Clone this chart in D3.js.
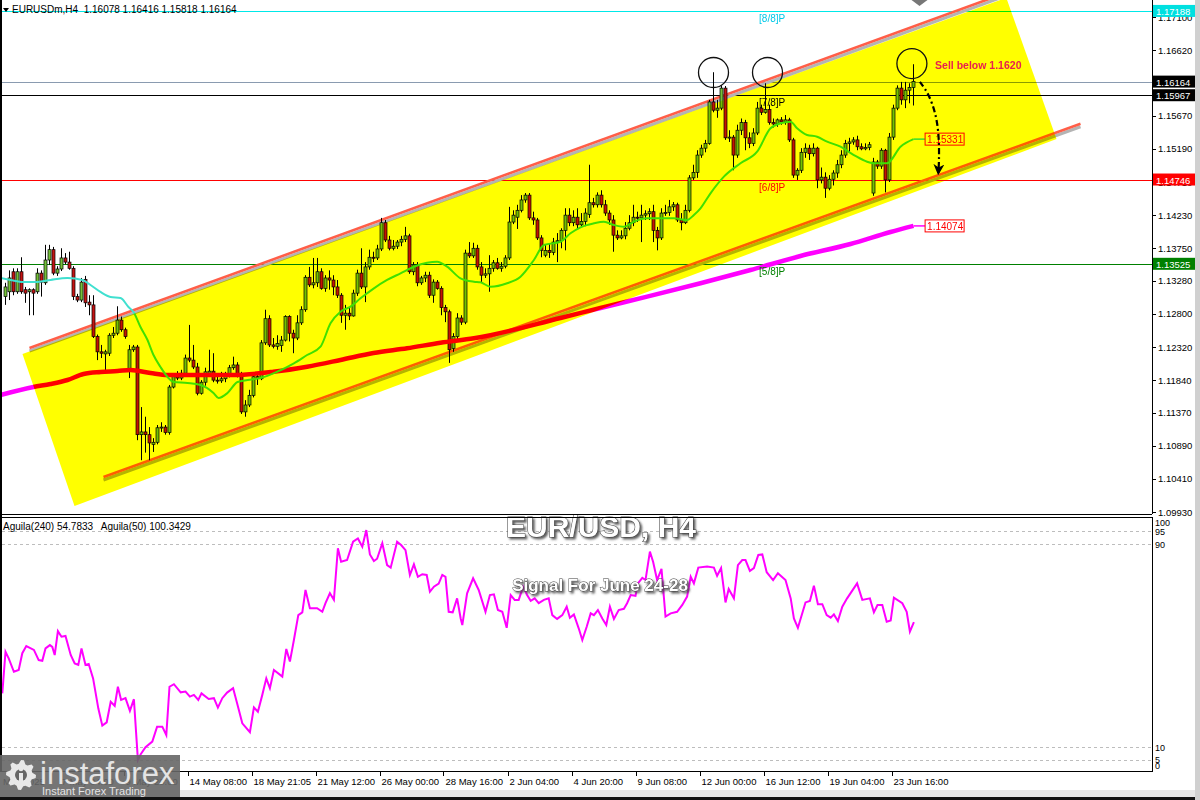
<!DOCTYPE html>
<html><head><meta charset="utf-8">
<script src="https://cdn.jsdelivr.net/npm/d3@7"></script>
<style>
html,body{margin:0;padding:0;background:#fff;}
svg{display:block;font-family:"Liberation Sans",Arial,sans-serif;}
</style></head><body>
<svg id="chart" width="1200" height="800"></svg>
<script>
// ---------------- DATA ----------------
const symbolHeader = "EURUSDm,H4  1.16078 1.16416 1.15818 1.16164";
const oscHeader = "Aguila(240) 54.7833   Aguila(50) 100.3429";

const opens = [1.1305,1.1312,1.1341,1.1312,1.1341,1.1315,1.1312,1.1315,1.1312,1.1339,
1.1325,1.1358,1.1373,1.1339,1.1345,1.1361,1.1355,1.1346,1.1305,1.1300,
1.1330,1.1297,1.1293,1.1247,1.1225,1.1222,1.1223,1.1249,1.1252,1.1271,
1.1257,1.1199,1.1228,1.1232,1.1105,1.1109,1.1105,1.1091,1.1094,1.1115,
1.1116,1.1108,1.1174,1.1189,1.1187,1.1194,1.1216,1.1213,1.1203,1.1165,
1.1181,1.1194,1.1197,1.1184,1.1183,1.1186,1.1191,1.1202,1.1206,1.1191,
1.1138,1.1148,1.1162,1.1189,1.1186,1.1238,1.1273,1.1235,1.1233,1.1234,
1.1242,1.1276,1.1252,1.1245,1.1267,1.1286,1.1333,1.1322,1.1325,1.1341,
1.1317,1.1332,1.1329,1.1319,1.1307,1.1278,1.1281,1.1277,1.1310,1.1339,
1.1319,1.1348,1.1362,1.1361,1.1374,1.1412,1.1387,1.1375,1.1378,1.1384,
1.1388,1.1393,1.1341,1.1351,1.1325,1.1332,1.1336,1.1307,1.1326,1.1317,
1.1289,1.1283,1.1230,1.1247,1.1274,1.1268,1.1368,1.1364,1.1375,1.1348,
1.1336,1.1338,1.1346,1.1354,1.1346,1.1349,1.1361,1.1413,1.1420,1.1430,
1.1445,1.1452,1.1419,1.1416,1.1390,1.1365,1.1372,1.1369,1.1384,1.1386,
1.1401,1.1423,1.1412,1.1420,1.1409,1.1414,1.1424,1.1441,1.1438,1.1452,
1.1438,1.1426,1.1416,1.1394,1.1390,1.1393,1.1404,1.1412,1.1420,1.1419,
1.1423,1.1425,1.1428,1.1401,1.1390,1.1426,1.1427,1.1435,1.1438,1.1416,
1.1412,1.1430,1.1477,1.1485,1.1510,1.1520,1.1527,1.1587,1.1575,1.1578,
1.1607,1.1535,1.1536,1.1510,1.1546,1.1557,1.1535,1.1527,1.1542,1.1578,
1.1572,1.1576,1.1557,1.1555,1.1561,1.1558,1.1561,1.1532,1.1481,1.1488,
1.1514,1.1520,1.1512,1.1520,1.1474,1.1478,1.1462,1.1475,1.1484,1.1496,
1.1510,1.1527,1.1529,1.1532,1.1522,1.1519,1.1521,1.1455,1.1500,1.1494,
1.1517,1.1474,1.1536,1.1578,1.1607,1.1590,1.1604,1.16078];

const highs = [1.1325,1.1343,1.1346,1.1346,1.1362,1.1319,1.1317,1.1317,1.1346,1.1343,
1.1380,1.1380,1.1377,1.1349,1.1375,1.1368,1.1370,1.1349,1.1309,1.1332,
1.1335,1.1307,1.1307,1.1250,1.1235,1.1228,1.1252,1.1261,1.1291,1.1276,
1.1260,1.1235,1.1235,1.1235,1.1145,1.1131,1.1116,1.1100,1.1119,1.1123,
1.1119,1.1177,1.1194,1.1197,1.1199,1.1221,1.1264,1.1235,1.1209,1.1184,
1.1202,1.1228,1.1223,1.1191,1.1196,1.1196,1.1206,1.1218,1.1210,1.1196,
1.1155,1.1170,1.1191,1.1194,1.1242,1.1286,1.1278,1.1245,1.1249,1.1248,
1.1278,1.1278,1.1257,1.1278,1.1291,1.1336,1.1348,1.1361,1.1361,1.1346,
1.1336,1.1343,1.1336,1.1329,1.1310,1.1293,1.1290,1.1315,1.1344,1.1375,
1.1355,1.1373,1.1370,1.1380,1.1419,1.1416,1.1393,1.1387,1.1387,1.1393,
1.1406,1.1396,1.1355,1.1355,1.1335,1.1341,1.1341,1.1330,1.1329,1.1320,
1.1293,1.1286,1.1252,1.1281,1.1278,1.1373,1.1384,1.1383,1.1380,1.1355,
1.1346,1.1365,1.1358,1.1361,1.1355,1.1365,1.1435,1.1430,1.1438,1.1452,
1.1455,1.1455,1.1428,1.1419,1.1394,1.1380,1.1381,1.1390,1.1397,1.1404,
1.1433,1.1433,1.1430,1.1433,1.1426,1.1433,1.1496,1.1448,1.1456,1.1459,
1.1445,1.1430,1.1423,1.1401,1.1401,1.1413,1.1423,1.1438,1.1428,1.1438,
1.1430,1.1433,1.1438,1.1406,1.1433,1.1438,1.1445,1.1442,1.1441,1.1426,
1.1438,1.1481,1.1496,1.1517,1.1525,1.1532,1.1590,1.1630,1.1590,1.1611,
1.1610,1.1546,1.1539,1.1554,1.1563,1.1561,1.1543,1.1549,1.1587,1.1583,
1.1614,1.1583,1.1563,1.1563,1.1565,1.1568,1.1564,1.1535,1.1491,1.1520,
1.1527,1.1525,1.1527,1.1522,1.1492,1.1485,1.1481,1.1488,1.1503,1.1517,
1.1532,1.1535,1.1536,1.1538,1.1527,1.1527,1.1529,1.1506,1.1503,1.1520,
1.1519,1.1542,1.1583,1.1611,1.1616,1.1616,1.1614,1.16416];

const lows = [1.1293,1.1300,1.1307,1.1309,1.1309,1.1296,1.1278,1.1278,1.1309,1.1305,
1.1322,1.1351,1.1336,1.1335,1.1342,1.1352,1.1344,1.1300,1.1297,1.1297,
1.1290,1.1278,1.1245,1.1213,1.1216,1.1196,1.1219,1.1245,1.1249,1.1254,
1.1244,1.1187,1.1225,1.1097,1.1068,1.1079,1.1068,1.1080,1.1091,1.1109,
1.1105,1.1105,1.1172,1.1184,1.1184,1.1191,1.1210,1.1200,1.1162,1.1163,
1.1176,1.1190,1.1181,1.1179,1.1180,1.1181,1.1188,1.1199,1.1188,1.1135,
1.1131,1.1145,1.1159,1.1177,1.1184,1.1235,1.1232,1.1230,1.1228,1.1225,
1.1240,1.1240,1.1223,1.1242,1.1264,1.1283,1.1319,1.1317,1.1319,1.1315,
1.1312,1.1315,1.1307,1.1303,1.1267,1.1257,1.1271,1.1276,1.1306,1.1316,
1.1297,1.1344,1.1355,1.1358,1.1371,1.1384,1.1372,1.1372,1.1374,1.1378,
1.1384,1.1338,1.1336,1.1320,1.1322,1.1326,1.1303,1.1296,1.1315,1.1278,
1.1268,1.1209,1.1225,1.1242,1.1264,1.1265,1.1361,1.1361,1.1344,1.1326,
1.1332,1.1312,1.1341,1.1344,1.1341,1.1346,1.1358,1.1410,1.1403,1.1427,
1.1441,1.1416,1.1409,1.1387,1.1362,1.1362,1.1361,1.1365,1.1355,1.1375,
1.1372,1.1407,1.1407,1.1403,1.1407,1.1407,1.1419,1.1434,1.1434,1.1434,
1.1422,1.1409,1.1370,1.1387,1.1388,1.1388,1.1401,1.1407,1.1413,1.1384,
1.1416,1.1416,1.1384,1.1372,1.1387,1.1422,1.1422,1.1429,1.1413,1.1401,
1.1410,1.1427,1.1474,1.1477,1.1506,1.1514,1.1525,1.1572,1.1564,1.1575,
1.1532,1.1529,1.1488,1.1506,1.1539,1.1517,1.1520,1.1523,1.1539,1.1568,
1.1570,1.1554,1.1550,1.1551,1.1554,1.1554,1.1529,1.1477,1.1474,1.1484,
1.1506,1.1503,1.1508,1.1462,1.1469,1.1448,1.1459,1.1466,1.1477,1.1491,
1.1506,1.1514,1.1525,1.1517,1.1517,1.1517,1.1517,1.1451,1.1490,1.1490,
1.1456,1.1471,1.1532,1.1575,1.1583,1.1578,1.1585,1.15818];

const closes = [1.1319,1.1332,1.1312,1.1341,1.1312,1.1310,1.1315,1.1310,1.1339,1.1326,
1.1358,1.1373,1.1339,1.1345,1.1361,1.1355,1.1346,1.1305,1.1300,1.1326,
1.1296,1.1293,1.1247,1.1225,1.1223,1.1225,1.1249,1.1252,1.1271,1.1257,
1.1247,1.1228,1.1232,1.1105,1.1109,1.1105,1.1093,1.1094,1.1115,1.1116,
1.1108,1.1174,1.1189,1.1187,1.1194,1.1216,1.1213,1.1203,1.1165,1.1181,
1.1196,1.1197,1.1184,1.1183,1.1186,1.1191,1.1202,1.1206,1.1191,1.1138,
1.1148,1.1162,1.1189,1.1186,1.1238,1.1273,1.1235,1.1233,1.1237,1.1242,
1.1276,1.1252,1.1245,1.1267,1.1286,1.1333,1.1322,1.1325,1.1341,1.1317,
1.1332,1.1329,1.1319,1.1307,1.1278,1.1281,1.1277,1.1310,1.1339,1.1319,
1.1348,1.1362,1.1361,1.1374,1.1412,1.1387,1.1375,1.1378,1.1384,1.1388,
1.1393,1.1341,1.1351,1.1325,1.1332,1.1336,1.1307,1.1326,1.1317,1.1289,
1.1283,1.1228,1.1247,1.1274,1.1268,1.1368,1.1364,1.1375,1.1348,1.1336,
1.1338,1.1346,1.1354,1.1346,1.1349,1.1361,1.1413,1.1423,1.1430,1.1445,
1.1452,1.1419,1.1416,1.1390,1.1372,1.1372,1.1369,1.1384,1.1386,1.1401,
1.1423,1.1412,1.1420,1.1409,1.1414,1.1426,1.1441,1.1438,1.1452,1.1438,
1.1426,1.1416,1.1394,1.1390,1.1393,1.1404,1.1412,1.1420,1.1419,1.1423,
1.1425,1.1428,1.1401,1.1390,1.1426,1.1427,1.1435,1.1438,1.1416,1.1412,
1.1430,1.1477,1.1485,1.1510,1.1520,1.1527,1.1587,1.1575,1.1578,1.1607,
1.1535,1.1536,1.1510,1.1546,1.1557,1.1535,1.1527,1.1542,1.1578,1.1572,
1.1576,1.1557,1.1555,1.1561,1.1558,1.1561,1.1532,1.1481,1.1488,1.1514,
1.1520,1.1512,1.1520,1.1474,1.1478,1.1462,1.1475,1.1484,1.1496,1.1510,
1.1527,1.1529,1.1532,1.1522,1.1519,1.1521,1.1525,1.1500,1.1494,1.1517,
1.1474,1.1536,1.1578,1.1607,1.1590,1.1604,1.1608,1.16164];

// moving averages: [bar index, price]
const maFast = [[-1.25,1.13319],[1.25,1.13291],[4.5,1.13262],[8,1.13262],[11.25,1.13291],[15.5,1.13319],
[19.25,1.13291],[21.25,1.13218],[23.75,1.13117],[26.25,1.13044],[28.75,1.13030],[30.75,1.12899],[32,1.12827],
[33.75,1.12610],[35.5,1.12421],[37,1.12204],[38.75,1.12030],[40.5,1.11886],[42,1.11813],[45.5,1.11799],
[48.75,1.11770],[52,1.11654],[53.25,1.11581],[55.5,1.11654],[58,1.11813],[60.5,1.11842],[63.75,1.11871],
[67.9,1.11962],[72.1,1.12084],[75.4,1.12204],[78.75,1.12324],[81.25,1.12663],[83.75,1.12831],[86.25,1.12904],
[88.75,1.13025],[92.1,1.13170],[95.4,1.13291],[98.75,1.13387],[102.1,1.13483],[105.4,1.13541],[107.9,1.13556],
[110.4,1.13483],[113.75,1.13315],[117.1,1.13266],[118.75,1.13257],[121.25,1.13193],[125.4,1.13243],[128.75,1.13338],
[132.1,1.13580],[134.6,1.13797],[138.75,1.13845],[141.25,1.13967],[143.75,1.14054],[147.1,1.14112],[149.6,1.14135],
[152.1,1.14087],[154.6,1.14062],[157.1,1.14135],[160.4,1.14184],[163.75,1.14184],[167.1,1.14184],[170.4,1.14160],
[172.1,1.14232],[173.75,1.14329],[176.25,1.14546],[179.6,1.14787],[183.75,1.14981],[187.9,1.15149],[191.25,1.15488],
[193.75,1.15560],[196.25,1.15583],[197.9,1.15488],[200.4,1.15391],[202.9,1.15366],[205.4,1.15294],[208.75,1.15221],
[212.1,1.15101],[215.4,1.15004],[217.1,1.14981],[220.4,1.14981],[223.75,1.15221],[227,1.15331]];

const maSlow = [[-1.25,1.11625],[7,1.11741],[11.25,1.11784],[15.5,1.11842],[19.5,1.11929],[23.75,1.11958],
[28,1.11972],[31.25,1.11987],[36.25,1.11943],[40.5,1.11914],[48.75,1.11914],[57,1.11914],[67,1.11962],
[75.4,1.12035],[83.75,1.12132],[92,1.12233],[100.4,1.12301],[108.75,1.12382],[117.1,1.12446],[138.75,1.12740],
[148.75,1.12885],[160.4,1.13049],[173.75,1.13243],[186.25,1.13435],[198.75,1.13638],[211.25,1.13812],
[221.25,1.13986],[227,1.14074]];

const maFastLast = "1.15331";
const maSlowLast = "1.14074";

// oscillator (Aguila): [bar index, value]
const oscPoints = [[-0.8,31.2],[0,47.6],[0.8,45],[2.1,39.7],[3.3,40.4],[4.2,47],[5.2,49.8],[7.1,48.3],[8.3,44.3],
[9.2,44],[10,48.9],[11.1,50.2],[11.7,49.5],[12.3,46.3],[13.1,55.7],[14,53.5],[15,53.8],[16.3,46.3],[17.3,43],
[18.2,42.4],[19,48.9],[20,42.4],[20.8,42.8],[21.9,37.1],[23.2,25.3],[24.2,18.5],[25.3,19.8],[26.3,27.9],
[27.3,26.3],[28.1,33.8],[28.9,28.6],[30,29.3],[31.1,24.3],[32.1,28.9],[33.1,5],[33.8,7.2],[35,10],[36.7,12.2],
[37.9,18.1],[39.2,18.1],[40.2,14.8],[41,33.8],[42.1,34.8],[43.8,31.6],[45,31.9],[46.1,29.9],[47.1,30.6],
[48.2,28.6],[49,31.2],[50.8,29],[52.1,29.3],[53.1,25.6],[54.2,29.3],[55.4,31.5],[56.9,33.2],[57.9,27.3],
[59.2,19.4],[61.1,15.9],[62.1,25.7],[63.1,24],[64.2,30.6],[65.2,37.1],[66.1,33.2],[67.1,40.4],[69.2,37.8],
[70.2,48.7],[71.1,43.7],[72.1,52.2],[73.2,62],[74.2,63.1],[75,71.9],[76.1,64.7],[77.9,64.7],[79.2,63.3],
[80,66.7],[81.1,70.6],[82.1,68],[83.1,88.3],[83.9,83],[85.4,83.7],[86.9,90.9],[88.1,92.2],[89.2,88.9],
[90.2,95.5],[91.1,85.9],[92.1,83.3],[92.9,84.2],[94.2,90.3],[95.4,81.7],[96.3,80.7],[97.9,90.9],[98.9,89.6],
[100,87.6],[101.1,77.8],[102.1,82],[103.1,77.1],[104.2,78.1],[105.3,77.8],[106.1,71.2],[107.1,73.2],
[108.3,74.4],[109.2,77.8],[110,77.1],[110.8,63.3],[111.8,63.1],[112.9,68.6],[113.8,60.7],[114.2,58.1],
[115.4,70.6],[116.9,76.5],[118.3,71.9],[120,63.3],[121.1,69.9],[122.1,70.2],[123.1,64],[124.2,63.3],
[125.3,57],[126.3,69.9],[127.3,68],[128.3,68],[129.4,73.2],[130.4,69.9],[131.3,67.6],[132.3,68.6],
[133.3,66.7],[134.6,68],[135.8,68.6],[136.7,62],[137.9,60.5],[139.2,62],[140.3,65.3],[141.1,61],[142.1,62.3],
[143.3,56.8],[144.2,52.2],[145.3,57.4],[146.3,62.7],[147.1,62],[148.1,64],[149.2,60.7],[150.2,58.1],
[151.1,65.3],[152.1,60.5],[153.3,64],[154.6,64.5],[155.4,66.7],[156.3,69.9],[157.5,69.6],[158.1,74.5],
[159.2,76.7],[160,75.8],[161.1,87],[161.9,83],[162.9,75.8],[164,80.2],[165,61.4],[166.3,62.7],[167.9,63.3],
[169.2,66],[170.4,69.3],[171.3,77.1],[172.1,74.5],[173.2,80.7],[175.4,81.1],[177.1,80.7],[177.9,77.5],
[178.9,80.5],[180,67],[180.8,72.3],[182.1,68.6],[183.1,81.7],[184.2,83.7],[185,83.7],[186.1,79.4],
[187.1,80.5],[188.2,85.7],[189.2,85.9],[190.3,78.9],[191.9,75.8],[193.1,78.5],[195,75.8],[196.3,68.6],
[197.1,60.7],[198.1,57],[200,67],[201.1,67.6],[202.1,73.6],[203.1,66.3],[204.2,66.3],[205.3,62],[206.3,61],
[207.1,62.3],[208.1,59.7],[209.2,65.3],[210.4,68.6],[212.9,74.5],[214.2,68],[216.1,68.6],[217.1,63.1],
[218,66],[219.2,66],[220.3,59.4],[221.3,59.9],[222.1,68.9],[224.2,66.7],[225.3,63.3],[226.1,55.5],[227.1,59.2]];

const priceTicks = [1.17100,1.16620,1.16140,1.15670,1.15190,1.14710,1.14230,1.13750,1.13280,1.12800,1.12320,1.11840,1.11370,1.10890,1.10410,1.09930];
const levelValues = [1.17188,1.16164,1.15967,1.14746,1.13525];
const levelTags = ["[8/8]P","","[7/8]P","[6/8]P","[5/8]P"];
const dateLabels = ["May 2025","7 May 04:00","9 May 20:00","14 May 08:00","18 May 21:05","21 May 12:00","26 May 00:00","28 May 16:00","2 Jun 04:00","4 Jun 20:00","9 Jun 08:00","12 Jun 00:00","16 Jun 12:00","19 Jun 04:00","23 Jun 16:00"];
const dateBars = [-1.2,13.5,29.5,45.5,61.5,77.5,93.5,109.5,125.5,141.5,157.5,173.5,189.5,205.5,221.5];
const oscGridLevels = [95,90,10,5];
const oscAxisLabels = [100,95,90,10,5,0];
// channel drawn on chart: [bar, price]
const channelUpper = [[6,1.12306],[250,1.17448]];
const channelLower = [[24.5,1.10437],[268.75,1.15554]];
const channelBand = [[4.25,1.12219],[250.2,1.17378],[262.75,1.15333],[17.25,1.10017]];
// annotations: [bar, price]
const markerCircles = [[177,1.16296],[190.5,1.16296],[226.6,1.16426]];
const arrowPath = [[228.6,1.1616],[230.8,1.1599],[232.7,1.1568],[233.4,1.1535],[233.4,1.1500],[233.2,1.1484]];
const sellNote = {bar:232.4, price:1.16340, text:"Sell below 1.1620"};
const title1 = "EUR/USD, H4";
const title2 = "Signal For June 24-28";

// ---------------- STYLES / LAYOUT ----------------
const levelColors = ["#00e8e8","#8a9bb0","#000000","#ff0000","#008000"];
const levelBoxColors = ["#00e0e0","#000000","#000000","#ff0000","#008000"];
const axisX = 1152;

const svg = d3.select("#chart");
const x = d3.scaleLinear().domain([0,287]).range([5.5,1153.5]);
const y = d3.scaleLinear().domain([1.09930,1.17100]).range([512,17]);
const yo = d3.scaleLinear().domain([0,100]).range([772.6,518.6]);

const defs = svg.append("defs");
defs.append("clipPath").attr("id","clipMain").append("rect").attr("x",2).attr("y",0).attr("width",axisX-2).attr("height",514);
defs.append("clipPath").attr("id","clipOsc").append("rect").attr("x",2).attr("y",518).attr("width",axisX-2).attr("height",253);
const flt = defs.append("filter").attr("id","tshadow").attr("x","-10%").attr("y","-40%").attr("width","130%").attr("height","200%");
flt.append("feDropShadow").attr("dx",2).attr("dy",2).attr("stdDeviation",1.3).attr("flood-color","#444").attr("flood-opacity",0.85);
defs.append("marker").attr("id","ahead").attr("viewBox","0 0 10 10").attr("refX",8).attr("refY",5)
  .attr("markerWidth",5).attr("markerHeight",5).attr("orient","auto")
  .append("path").attr("d","M0,0 L10,5 L0,10 L3,5 z").attr("fill","#000");

svg.append("rect").attr("width",1200).attr("height",800).attr("fill","#fff");

// ---------- main panel ----------
const main = svg.append("g").attr("clip-path","url(#clipMain)").style("isolation","isolate");

// horizontal levels
main.selectAll("line.level").data(levelValues).join("line")
  .attr("x1",0).attr("x2",axisX)
  .attr("y1",d=>Math.round(y(d))+0.5).attr("y2",d=>Math.round(y(d))+0.5)
  .attr("stroke",(d,i)=>levelColors[i]).attr("stroke-width",1);

// channel lines with shadow
const lineXY = d3.line().x(d=>x(d[0])).y(d=>y(d[1]));
[channelUpper, channelLower].forEach(ch=>{
  main.append("path").attr("d",lineXY(ch)).attr("transform","translate(0,3)")
    .attr("fill","none").attr("stroke","#b4b4b4").attr("stroke-width",3);
  main.append("path").attr("d",lineXY(ch))
    .attr("fill","none").attr("stroke","#ff5e48").attr("stroke-width",2.6);
});

// candles
const bars = opens.map((o,i)=>({i,o,h:highs[i],l:lows[i],c:closes[i]}));
const gC = main.append("g");
gC.selectAll("line.wick").data(bars).join("line")
  .attr("x1",d=>x(d.i)).attr("x2",d=>x(d.i))
  .attr("y1",d=>y(d.h)).attr("y2",d=>y(d.l))
  .attr("stroke","#000").attr("stroke-width",1);
gC.selectAll("rect.body").data(bars).join("rect")
  .attr("x",d=>x(d.i)-1.5).attr("width",3)
  .attr("y",d=>y(Math.max(d.o,d.c)))
  .attr("height",d=>Math.max(1,Math.abs(y(d.o)-y(d.c))))
  .attr("fill",d=>d.c>=d.o?"#74c03a":"#c41414")
  .attr("stroke","#000").attr("stroke-width",0.7);

// moving averages
const maLine = d3.line().x(d=>x(d[0])).y(d=>y(d[1])).curve(d3.curveMonotoneX);
main.append("path").attr("d",maLine(maSlow)).attr("fill","none").attr("stroke","#ff00ff").attr("stroke-width",4.5);
main.append("path").attr("d",maLine(maFast)).attr("fill","none").attr("stroke","#40e0d0").attr("stroke-width",2);

// yellow channel band (multiplied over everything beneath)
main.append("path")
  .attr("d",d3.line().x(d=>x(d[0])).y(d=>y(d[1]))(channelBand)+"Z")
  .attr("fill","#ffff00").style("mix-blend-mode","multiply");

// MA value tags
const tagBar = 229.9;
[[maFast,maFastLast,"#33dd33"],[maSlow,maSlowLast,"#ff00ff"]].forEach(([ma,txt,col])=>{
  const last = ma[ma.length-1];
  main.append("line").attr("x1",x(last[0])).attr("x2",x(tagBar)).attr("y1",y(last[1])).attr("y2",y(last[1]))
    .attr("stroke",col).attr("stroke-width",1.5);
  main.append("rect").attr("x",x(tagBar)).attr("y",y(last[1])-6).attr("width",39).attr("height",12)
    .attr("fill","none").attr("stroke","#ff0000").attr("stroke-width",1);
  main.append("text").attr("x",x(tagBar)+2).attr("y",y(last[1])+4).text(txt)
    .attr("font-size",10).attr("fill","#ff0000");
});

// level tags [x/8]P
main.selectAll("text.tag").data(levelValues).join("text")
  .attr("x",x(188.4)).attr("y",d=>y(d)+11)
  .text((d,i)=>levelTags[i]).attr("font-size",10)
  .attr("fill",(d,i)=>levelColors[i]==="#00e8e8"?"#00c8e8":levelColors[i]);

// circles
main.selectAll("circle.mk").data(markerCircles).join("circle")
  .attr("cx",d=>x(d[0])).attr("cy",d=>y(d[1])).attr("r",15)
  .attr("fill","none").attr("stroke","#111").attr("stroke-width",1.3);

// dotted arrow
main.append("path").attr("d",d3.line().x(d=>x(d[0])).y(d=>y(d[1])).curve(d3.curveBasis)(arrowPath))
  .attr("fill","none").attr("stroke","#000").attr("stroke-width",2.2)
  .attr("stroke-dasharray","6,3,2,3").attr("marker-end","url(#ahead)");

main.append("text").attr("x",x(sellNote.bar)).attr("y",y(sellNote.price)).text(sellNote.text)
  .attr("font-size",10.5).attr("font-weight","bold").attr("fill","#e8204e");

// small handle at top of channel
main.append("path").attr("d",`M${x(226.5)},0 L${x(230.5)},0 L${x(228.5)},6 Z`).attr("fill","#777");

// ---------- price axis ----------
const ax = svg.append("g");
ax.selectAll("line.pt").data(priceTicks).join("line")
  .attr("x1",axisX).attr("x2",axisX+4).attr("y1",d=>Math.round(y(d))+0.5).attr("y2",d=>Math.round(y(d))+0.5)
  .attr("stroke","#000");
ax.selectAll("text.pt").data(priceTicks).join("text")
  .attr("x",axisX+6).attr("y",d=>y(d)+3.5).text(d=>d.toFixed(5))
  .attr("font-size",9.5).attr("fill","#000");
ax.selectAll("rect.lb").data(levelValues).join("rect")
  .attr("x",axisX+1).attr("y",d=>y(d)-6).attr("width",42).attr("height",12)
  .attr("fill",(d,i)=>levelBoxColors[i]);
ax.selectAll("text.lb").data(levelValues).join("text")
  .attr("x",axisX+4).attr("y",d=>y(d)+4).text(d=>d.toFixed(5))
  .attr("font-size",9.5).attr("fill","#fff");

// header
svg.append("path").attr("d","M3,8 L9,8 L6,12 Z").attr("fill","#000");
svg.append("text").attr("x",12).attr("y",13).text(symbolHeader).attr("font-size",10).attr("fill","#000")
  .attr("xml:space","preserve");

// ---------- oscillator ----------
const osc = svg.append("g").attr("clip-path","url(#clipOsc)");
osc.selectAll("line.og").data(oscGridLevels).join("line")
  .attr("x1",2).attr("x2",axisX).attr("y1",d=>Math.round(yo(d))+0.5).attr("y2",d=>Math.round(yo(d))+0.5)
  .attr("stroke","#bdbdbd").attr("stroke-dasharray","3,3");
osc.append("path").attr("d",d3.line().x(d=>x(d[0])).y(d=>yo(d[1]))(oscPoints))
  .attr("fill","none").attr("stroke","#ff00ff").attr("stroke-width",2);

svg.append("text").attr("x",3).attr("y",530).text(oscHeader).attr("font-size",10).attr("fill","#000")
  .attr("xml:space","preserve");

svg.selectAll("text.ol").data(oscAxisLabels).join("text")
  .attr("x",axisX+3).attr("y",d=>Math.min(Math.max(yo(d)+3.5,526),769)).text(d=>d)
  .attr("font-size",9).attr("fill","#000");

// titles
svg.append("text").attr("x",601).attr("y",537).attr("text-anchor","middle").text(title1)
  .attr("font-size",30).attr("font-weight","bold").attr("fill","#fff")
  .attr("stroke","#3c3c3c").attr("stroke-width",1).attr("paint-order","stroke")
  .attr("filter","url(#tshadow)");
svg.append("text").attr("x",600).attr("y",591).attr("text-anchor","middle").text(title2)
  .attr("font-size",17).attr("font-weight","bold").attr("fill","#fff")
  .attr("stroke","#3c3c3c").attr("stroke-width",0.8).attr("paint-order","stroke")
  .attr("filter","url(#tshadow)");

// ---------- frame lines ----------
svg.append("rect").attr("x",0).attr("y",0).attr("width",2).attr("height",772).attr("fill","#000");
svg.append("line").attr("x1",0).attr("x2",axisX).attr("y1",514.5).attr("y2",514.5).attr("stroke","#000");
svg.append("line").attr("x1",0).attr("x2",axisX).attr("y1",517.5).attr("y2",517.5).attr("stroke","#000");
svg.append("line").attr("x1",axisX+0.5).attr("x2",axisX+0.5).attr("y1",0).attr("y2",514).attr("stroke","#000");
svg.append("line").attr("x1",axisX+0.5).attr("x2",axisX+0.5).attr("y1",517).attr("y2",772).attr("stroke","#000");
svg.append("line").attr("x1",0).attr("x2",axisX+1).attr("y1",771.5).attr("y2",771.5).attr("stroke","#000");

// date axis
svg.selectAll("line.dt").data(dateBars.slice(1)).join("line")
  .attr("x1",d=>Math.round(x(d))+0.5).attr("x2",d=>Math.round(x(d))+0.5).attr("y1",772).attr("y2",776)
  .attr("stroke","#000");
svg.selectAll("text.dt").data(dateLabels).join("text")
  .attr("x",(d,i)=>Math.max(3,x(dateBars[i])+2)).attr("y",785).text(d=>d)
  .attr("font-size",9.5).attr("fill","#000");

svg.append("rect").attr("x",0).attr("y",790).attr("width",1200).attr("height",7).attr("fill","#e6e6e6");
svg.append("rect").attr("x",0).attr("y",797).attr("width",1200).attr("height",3).attr("fill","#111");
svg.append("rect").attr("x",1195).attr("y",0).attr("width",5).attr("height",800).attr("fill","#d0d0d0");

// ---------- logo ----------
const logo = svg.append("g");
logo.append("rect").attr("x",0).attr("y",755).attr("width",180).attr("height",42).attr("fill","#666").attr("opacity",0.9);
const gcx=21, gcy=775, teeth=8;
const gearPts=[];
for(let k=0;k<teeth*4;k++){
  const a = k/(teeth*4)*2*Math.PI;
  const r = (k%4===0||k%4===1)?15:11.5;
  gearPts.push([gcx+r*Math.cos(a), gcy+r*Math.sin(a)]);
}
logo.append("path").attr("d",d3.line()(gearPts)+"Z").attr("fill","#e8e8e8");
logo.append("circle").attr("cx",gcx).attr("cy",gcy).attr("r",6).attr("fill","#666");
logo.append("rect").attr("x",gcx-2).attr("y",gcy-2).attr("width",4).attr("height",12).attr("fill","#e8e8e8");
logo.append("circle").attr("cx",gcx).attr("cy",gcy-6).attr("r",2.3).attr("fill","#e8e8e8");
logo.append("text").attr("x",40).attr("y",784).text("instaforex").attr("font-size",31).attr("fill","#e4e4e4");
logo.append("text").attr("x",42).attr("y",795).text("Instant Forex Trading").attr("font-size",11).attr("fill","#e4e4e4");
</script>
</body></html>
